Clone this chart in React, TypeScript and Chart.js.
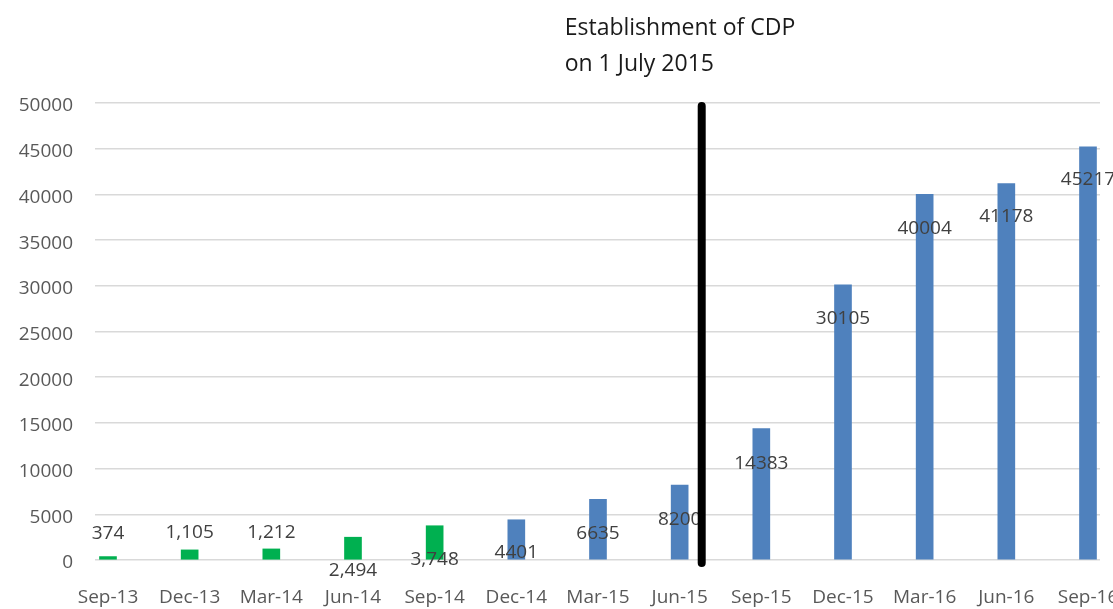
import React, { useEffect, useRef } from "react";
import { Chart, registerables } from "chart.js";

Chart.register(...registerables);

const categories = ["Sep-13", "Dec-13", "Mar-14", "Jun-14", "Sep-14", "Dec-14", "Mar-15", "Jun-15", "Sep-15", "Dec-15", "Mar-16", "Jun-16", "Sep-16"];
const values = [374, 1105, 1212, 2494, 3748, 4401, 6635, 8200, 14383, 30105, 40004, 41178, 45217];
const valueLabels = ["374", "1,105", "1,212", "2,494", "3,748", "4401", "6635", "8200", "14383", "30105", "40004", "41178", "45217"];
const seriesGroup = ["A", "A", "A", "A", "A", "B", "B", "B", "B", "B", "B", "B", "B"];
const yTicks = [0, 5000, 10000, 15000, 20000, 25000, 30000, 35000, 40000, 45000, 50000];
const annotationLines = ["Establishment of CDP", "on 1 July 2015"];
const cdpMarkerIndex = 7.27; // 1 July 2015 between Jun-15 and Sep-15

// style config
const groupColors: Record<string, string> = { A: "#00B050", B: "#4F81BD" };
const labelDy = [-23, -17, -16, 33, 34, 33, 34, 35, 35, 34, 34, 33, 33];
const FONT = "'Open Sans', sans-serif";

const labelsPlugin = {
  id: "valueLabels",
  afterDatasetsDraw(chart: any) {
    const ctx = chart.ctx;
    const meta = chart.getDatasetMeta(0);
    ctx.save();
    ctx.font = `19px ${FONT}`;
    ctx.fillStyle = "#404040";
    ctx.textAlign = "center";
    ctx.textBaseline = "middle";
    meta.data.forEach((el: any, i: number) => {
      ctx.fillText(valueLabels[i], el.x, el.y + labelDy[i]);
    });
    ctx.restore();
  },
};

const markerPlugin = {
  id: "cdpMarker",
  afterDraw(chart: any) {
    const ctx = chart.ctx;
    const xs = chart.scales.x;
    const ys = chart.scales.y;
    const x = xs.getPixelForValue(cdpMarkerIndex);
    ctx.save();
    ctx.strokeStyle = "#000";
    ctx.lineWidth = 8;
    ctx.lineCap = "round";
    ctx.beginPath();
    ctx.moveTo(x, ys.getPixelForValue(50000) + 3);
    ctx.lineTo(x, ys.getPixelForValue(0) + 3);
    ctx.stroke();
    ctx.font = `23px ${FONT}`;
    ctx.fillStyle = "#1a1a1a";
    ctx.textAlign = "left";
    ctx.textBaseline = "alphabetic";
    ctx.fillText(annotationLines[0], x - 137, 35);
    ctx.fillText(annotationLines[1], x - 137, 71);
    ctx.restore();
  },
};

export default function App() {
  const ref = useRef<HTMLCanvasElement>(null);
  useEffect(() => {
    if (!ref.current) return;
    const chart = new Chart(ref.current, {
      type: "bar",
      data: {
        datasets: [
          {
            data: values.map((v, i) => ({ x: i, y: v })),
            backgroundColor: seriesGroup.map((g) => groupColors[g]),
            barThickness: 17,
            borderWidth: 0,
          },
        ],
      },
      options: {
        responsive: false,
        animation: false,
        devicePixelRatio: 1,
        layout: { autoPadding: false, padding: { top: 103, right: 13, left: 0, bottom: 0 } },
        plugins: { legend: { display: false }, tooltip: { enabled: false } },
        scales: {
          x: {
            type: "linear",
            offset: false,
            min: -0.159,
            max: 12.147,
            grid: { display: false },
            border: { display: false },
            afterBuildTicks: (scale: any) => {
              scale.ticks = categories.map((_, i) => ({ value: i }));
            },
            afterFit: (scale: any) => {
              scale.height = 49;
              scale.paddingLeft = 0;
              scale.paddingRight = 0;
            },
            ticks: {
              autoSkip: false,
              maxRotation: 0,
              minRotation: 0,
              padding: 18,
              color: "#595959",
              font: { family: FONT, size: 19 },
              callback: (v: any) => categories[v] ?? "",
            },
          },
          y: {
            min: 0,
            max: 50000,
            afterBuildTicks: (scale: any) => {
              scale.ticks = yTicks.map((v) => ({ value: v }));
            },
            afterFit: (scale: any) => {
              scale.width = 95;
              scale.paddingTop = 0;
              scale.paddingBottom = 0;
            },
            grid: { color: "#d9d9d9", lineWidth: 1.5, drawTicks: false },
            border: { display: false },
            ticks: {
              padding: 22,
              labelOffset: 3,
              color: "#595959",
              font: { family: FONT, size: 19 },
              callback: (v: any) => String(v),
            },
          },
        },
      },
      plugins: [labelsPlugin, markerPlugin],
    });
    return () => chart.destroy();
  }, []);
  return (
    <div style={{ position: "absolute", left: 0, top: 0, width: 1113, height: 609, background: "#fff" }}>
      <canvas ref={ref} width={1113} height={609} />
    </div>
  );
}
